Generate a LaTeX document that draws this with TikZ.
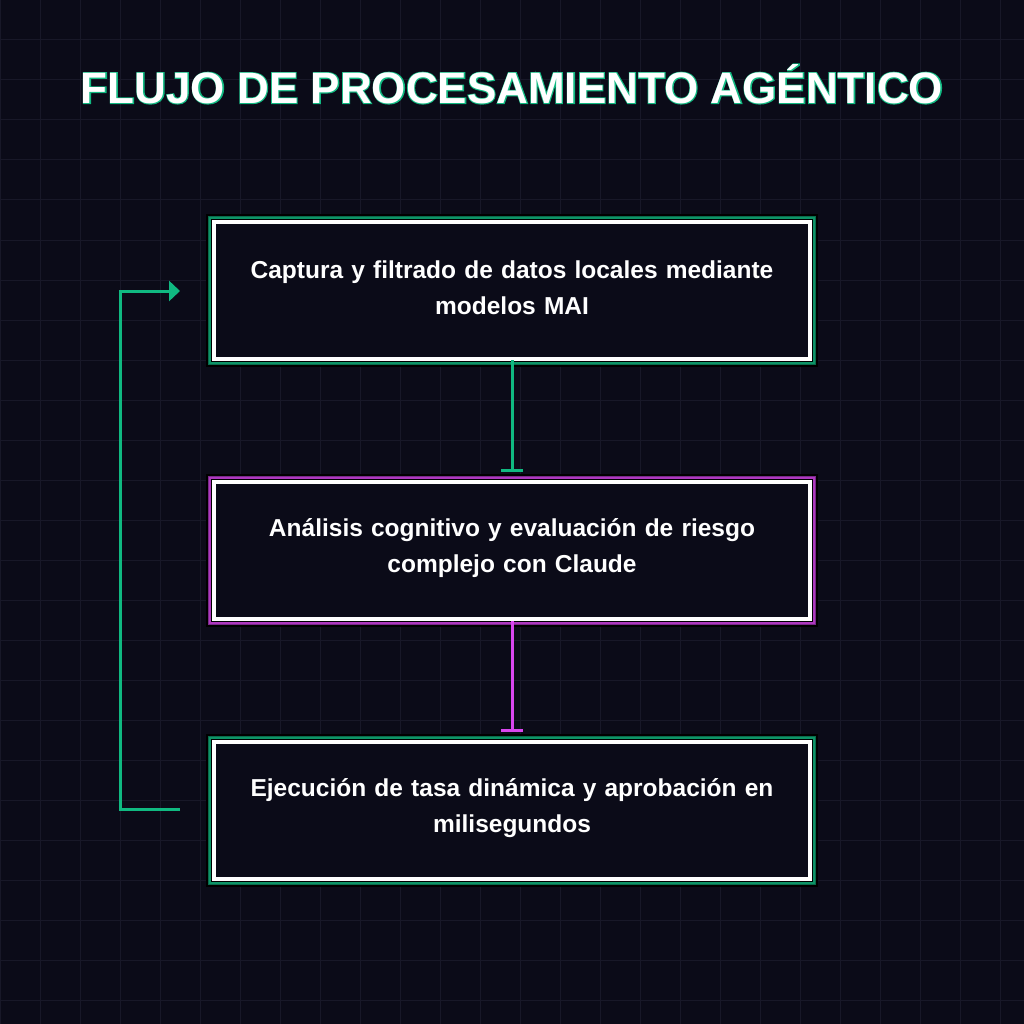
\documentclass[tikz,border=0pt]{standalone}
\usepackage{fontspec}
\setmainfont{Liberation Sans}
\newfontfamily\glowfont[FakeBold=4]{Liberation Sans Bold}
\usetikzlibrary{arrows.meta}
\definecolor{bg}{HTML}{0B0B18}
\definecolor{gridc}{HTML}{181828}
\definecolor{grn}{HTML}{10B981}
\definecolor{dgrn}{HTML}{0A6B4C}
\definecolor{mag}{HTML}{D946EF}
\definecolor{dmag}{HTML}{7A2A8A}
\tikzset{
 boxtxt/.style={text=white,font=\bfseries\fontsize{24.5}{36}\selectfont,align=center,text width=580pt},
 lnk/.style={line width=3pt,-{Bar[width=22pt,line width=3pt]}},
}
\begin{document}
\begin{tikzpicture}[x=1pt,y=-1pt]
\fill[bg] (0,0) rectangle (1024,1024);
\useasboundingbox (0,0) rectangle (1024,1024);
\foreach \i in {0,40,...,1000}{
 \draw[gridc,line width=1pt] (\i,0) -- (\i,1024);
 \draw[gridc,line width=1pt] (0,\i) -- (1024,\i);}
\node[font=\glowfont\fontsize{44}{50}\selectfont,text=grn] at (512,84) {FLUJO DE PROCESAMIENTO AGÉNTICO};
\node (title) [font=\bfseries\fontsize{44}{50}\selectfont,text=white] at (512,84) {FLUJO DE PROCESAMIENTO AGÉNTICO};
% boxes
\fill[black] (206,214) rectangle (818,367);
\draw[dgrn,line width=3pt] (209.5,217.5) rectangle (814.5,363.5);
\draw[grn!80!black,line width=2pt] (210,218) rectangle (814,363);
\draw[white,line width=4pt,fill=bg] (214,222) rectangle (810,359);
\fill[black] (206,474) rectangle (818,627);
\draw[dmag,line width=3pt] (209.5,477.5) rectangle (814.5,623.5);
\draw[mag!80!black,line width=2pt] (210,478) rectangle (814,623);
\draw[white,line width=4pt,fill=bg] (214,482) rectangle (810,619);
\fill[black] (206,734) rectangle (818,887);
\draw[dgrn,line width=3pt] (209.5,737.5) rectangle (814.5,883.5);
\draw[grn!80!black,line width=2pt] (210,738) rectangle (814,883);
\draw[white,line width=4pt,fill=bg] (214,742) rectangle (810,879);
\node (b1) [boxtxt] at (512,288) {Captura y filtrado de datos locales mediante\\ modelos MAI};
\node (b2) [boxtxt] at (512,548) {Análisis cognitivo y evaluación de riesgo\\ complejo con Claude};
\node (b3) [boxtxt] at (512,808) {Ejecución de tasa dinámica y aprobación en\\ milisegundos};
\draw[lnk,grn] (512,360) -- (512,472);
\draw[lnk,mag] (512,621) -- (512,732);
\coordinate (l1) at (180,809);
\coordinate (l2) at (180,291);
\draw[grn,line width=3pt,-{Triangle[length=11pt,width=20pt]}] (l1) -- (120,809) -- (120,291) -- (l2);
\end{tikzpicture}
\end{document}
